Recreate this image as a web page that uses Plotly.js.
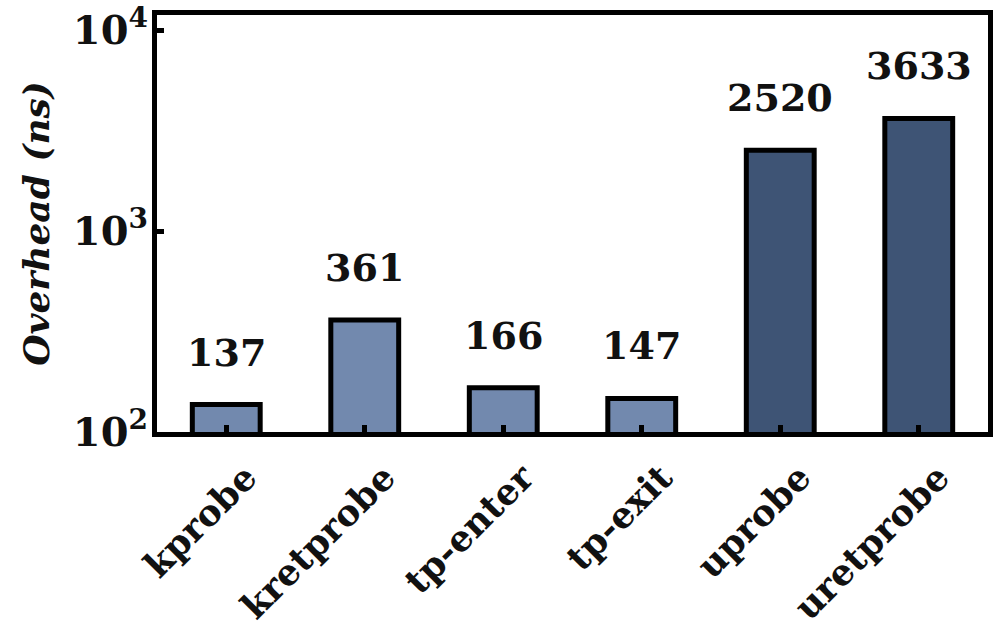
<!DOCTYPE html>
<html>
<head>
<meta charset="utf-8">
<script src="https://cdn.plot.ly/plotly-3.0.1.min.js"></script>
<style>html,body{margin:0;padding:0;background:#fff;}#chart{width:1004px;height:633px;}</style>
</head>
<body>
<div id="chart"></div>
<script>
const categories = ['kprobe', 'kretprobe', 'tp-enter', 'tp-exit', 'uprobe', 'uretprobe'];
const overheadNs = [137, 361, 166, 147, 2520, 3633];
const barColors = ['#7289ae', '#7289ae', '#7289ae', '#7289ae', '#3e5475', '#3e5475'];
const yTickVals = [100, 1000, 10000];
const yTickText = ['10<sup>2</sup>', '10<sup>3</sup>', '10<sup>4</sup>'];

const FONT = 'DejaVu Serif, Liberation Serif, serif';

const trace = {
  type: 'bar',
  x: categories,
  y: overheadNs,
  width: 0.49,
  marker: { color: barColors, line: { color: '#000', width: 5 } },
  hoverinfo: 'x+y'
};

const annotations = categories.map((c, i) => ({
  x: c,
  y: Math.log10(overheadNs[i]),
  xref: 'x', yref: 'y',
  text: String(overheadNs[i]),
  showarrow: false,
  yanchor: 'bottom',
  yshift: 28,
  font: { family: FONT, size: 38, color: '#111', weight: 'bold' }
}));

const layout = {
  width: 1004, height: 633,
  margin: { l: 157, r: 16, t: 15, b: 201 },
  paper_bgcolor: '#fff', plot_bgcolor: '#fff',
  showlegend: false,
  font: { family: FONT, color: '#111' },
  xaxis: {
    type: 'category',
    showline: true, mirror: true, linecolor: '#000', linewidth: 5,
    ticks: 'inside', ticklen: 7, tickwidth: 5, tickcolor: '#000',
    tickangle: -45,
    ticklabelshift: 20,
    ticklabelstandoff: 5,
    tickfont: { family: FONT, size: 36, color: '#111', weight: 'bold' },
    showgrid: false, zeroline: false
  },
  yaxis: {
    type: 'log',
    range: [2, 4.075],
    showline: true, mirror: true, linecolor: '#000', linewidth: 5,
    ticks: 'inside', ticklen: 7, tickwidth: 5, tickcolor: '#000',
    tickvals: yTickVals, ticktext: yTickText,
    ticklabelstandoff: -4,
    tickfont: { family: FONT, size: 40, color: '#111', weight: 'bold' },
    showgrid: false, zeroline: false,
    title: { text: 'Overhead (ns)', standoff: 14,
      font: { family: FONT, size: 36, color: '#111', weight: 'bold', style: 'italic' } }
  },
  annotations: annotations
};

Plotly.newPlot('chart', [trace], layout, { staticPlot: true, displayModeBar: false });
</script>
</body>
</html>
